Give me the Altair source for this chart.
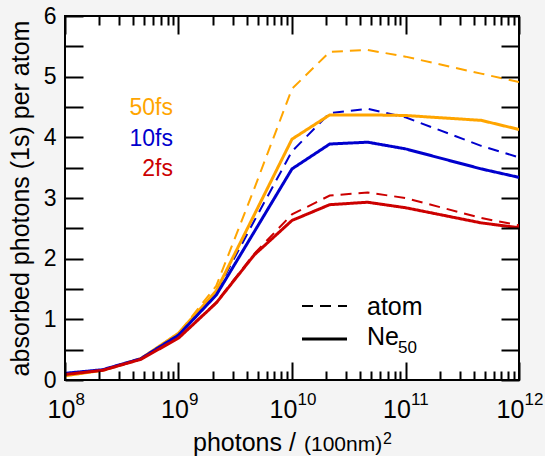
import altair as alt
import pandas as pd

# Photon fluence grid (photons per (100 nm)^2), three points per decade
fluence = [1e8, 2.15e8, 4.64e8, 1e9, 2.15e9, 4.64e9, 1e10, 2.15e10, 4.64e10, 1e11, 4.64e11, 1e12]

# Absorbed 1s photons per atom: isolated atom vs. Ne50 cluster, for three pulse lengths
atom_50fs = [0.08, 0.17, 0.35, 0.77, 1.55, 3.15, 4.80, 5.41, 5.44, 5.33, 5.05, 4.91]
ne50_50fs = [0.07, 0.16, 0.35, 0.77, 1.47, 2.72, 3.97, 4.37, 4.37, 4.36, 4.28, 4.13]
atom_10fs = [0.10, 0.17, 0.35, 0.75, 1.45, 2.62, 3.77, 4.40, 4.47, 4.33, 3.86, 3.67]
ne50_10fs = [0.11, 0.17, 0.35, 0.74, 1.40, 2.44, 3.48, 3.89, 3.92, 3.81, 3.48, 3.34]
atom_2fs = [0.09, 0.16, 0.34, 0.70, 1.28, 2.08, 2.73, 3.04, 3.09, 3.00, 2.67, 2.55]
ne50_2fs = [0.09, 0.16, 0.34, 0.69, 1.27, 2.06, 2.63, 2.89, 2.93, 2.84, 2.59, 2.51]

pulses = ["50fs", "10fs", "2fs"]
pulse_colors = ["#ffa500", "#0000cd", "#cc0000"]
kinds = ["atom", "Ne50"]

decades = [1e8, 1e9, 1e10, 1e11, 1e12]
x_ticks = decades + [m * 10.0 ** e for e in range(8, 12) for m in range(2, 10)]
y_ticks = [0, 0.5, 1, 1.5, 2, 2.5, 3, 3.5, 4, 4.5, 5, 5.5, 6]
y_labels = [0, 1, 2, 3, 4, 5, 6]

series = [
    ("50fs", "atom", atom_50fs), ("10fs", "atom", atom_10fs), ("2fs", "atom", atom_2fs),
    ("50fs", "Ne50", ne50_50fs), ("10fs", "Ne50", ne50_10fs), ("2fs", "Ne50", ne50_2fs),
]
rows = []
for pulse, kind, vals in series:
    for f, v in zip(fluence, vals):
        rows.append({"fluence": f, "absorbed": v, "pulse": pulse, "kind": kind,
                     "series": pulse + " " + kind})
df = pd.DataFrame(rows)

W, H = 454, 364
FONT = "Liberation Sans"
xscale = alt.Scale(type="log", domain=[1e8, 1e12], nice=False)
yscale = alt.Scale(domain=[0, 6], nice=False)
is_decade = "abs(log(datum.value)/LN10 - round(log(datum.value)/LN10)) < 0.001"
major_minor = {"condition": {"test": is_decade, "value": 18}, "value": 9}

# data lines with the labelled axes
lines = alt.Chart(df).mark_line(clip=True).encode(
    x=alt.X("fluence:Q", scale=xscale, axis=alt.Axis(
        orient="bottom", values=decades, labelExpr="'10'", labelFont=FONT,
        labelFontSize=25, labelColor="black", labelBaseline="alphabetic",
        labelAlign="center", labelPadding=37,
        labelOffset={"condition": {"test": "datum.value >= 1e10", "value": -9}, "value": -4},
        ticks=False, tickSize=0, domain=False, grid=False, title=None)),
    y=alt.Y("absorbed:Q", scale=yscale, axis=alt.Axis(
        orient="left", values=y_labels, labelFont=FONT, labelFontSize=23,
        labelColor="black", labelPadding=9, ticks=False, tickSize=0,
        domain=False, grid=False, title="absorbed photons (1s) per atom",
        titleFont=FONT, titleFontSize=25, titleFontWeight="normal",
        titleColor="black", titlePadding=10)),
    color=alt.Color("pulse:N", scale=alt.Scale(domain=pulses, range=pulse_colors), legend=None),
    strokeDash=alt.StrokeDash("kind:N", scale=alt.Scale(domain=kinds, range=[[11, 7], [1, 0]]), legend=None),
    strokeWidth=alt.StrokeWidth("kind:N", scale=alt.Scale(domain=kinds, range=[2, 3]), legend=None),
    detail="series:N",
)

# decade exponents as superscripts, plus inward ticks on the left edge
exps = alt.Chart(df).mark_point(opacity=0).encode(
    x=alt.X("fluence:Q", scale=xscale, axis=alt.Axis(
        orient="bottom", values=decades,
        labelExpr="'' + round(log(datum.value)/LN10)", labelFont=FONT,
        labelFontSize=17, labelColor="black", labelBaseline="alphabetic",
        labelAlign="left", labelPadding=24,
        labelOffset={"condition": {"test": "datum.value >= 1e10", "value": 5}, "value": 10},
        ticks=False, tickSize=0, domain=False, grid=False, title=None)),
    y=alt.Y("absorbed:Q", scale=yscale, axis=alt.Axis(
        orient="right", offset=-W, values=y_ticks, labels=False, tickSize=18,
        tickWidth=2, tickColor="black", domain=False, grid=False, title=None, zindex=1)),
)

# inward ticks on the bottom and right edges
ticks_br = alt.Chart(df).mark_point(opacity=0).encode(
    x=alt.X("fluence:Q", scale=xscale, axis=alt.Axis(
        orient="top", offset=-H, values=x_ticks, labels=False, tickSize=major_minor,
        tickWidth=2, tickColor="black", domain=False, grid=False, title=None, zindex=1)),
    y=alt.Y("absorbed:Q", scale=yscale, axis=alt.Axis(
        orient="left", offset=-W, values=y_ticks, labels=False, tickSize=18,
        tickWidth=2, tickColor="black", domain=False, grid=False, title=None, zindex=1)),
)

# inward ticks on the top edge
ticks_t = alt.Chart(df).mark_point(opacity=0).encode(
    x=alt.X("fluence:Q", scale=xscale, axis=alt.Axis(
        orient="bottom", offset=-H, values=x_ticks, labels=False, tickSize=major_minor,
        tickWidth=2, tickColor="black", domain=False, grid=False, title=None, zindex=1)),
    y=alt.Y("absorbed:Q", scale=yscale, axis=None),
)

one = pd.DataFrame({"k": [0]})

# pulse-length labels in their line colours
pulse_labels = [
    alt.Chart(one).mark_text(text=p, color=c, font=FONT, fontSize=23,
                             align="right", baseline="alphabetic").encode(
        x=alt.value(108), y=alt.value(99 + i * 30.5))
    for i, (p, c) in enumerate(zip(pulses, pulse_colors))
]

# line-style key
key_lines = [
    alt.Chart(one).mark_rule(color="black", strokeWidth=w, strokeDash=d).encode(
        x=alt.value(237), x2=alt.value(282), y=alt.value(290 + i * 33))
    for i, (w, d) in enumerate([(2, [11, 7]), (3, [1, 0])])
]
key_text = [
    alt.Chart(one).mark_text(text="atom", font=FONT, fontSize=25, align="left",
                             baseline="alphabetic", color="black").encode(
        x=alt.value(302), y=alt.value(299)),
    alt.Chart(one).mark_text(text="Ne", font=FONT, fontSize=25, align="left",
                             baseline="alphabetic", color="black").encode(
        x=alt.value(302), y=alt.value(329)),
    alt.Chart(one).mark_text(text="50", font=FONT, fontSize=17, align="left",
                             baseline="alphabetic", color="black").encode(
        x=alt.value(333), y=alt.value(337)),
]

# x-axis title with unit in smaller type
x_title = [
    alt.Chart(one).mark_text(text="photons /", font=FONT, fontSize=25, align="left",
                             baseline="alphabetic", color="black").encode(
        x=alt.value(128), y=alt.value(435)),
    alt.Chart(one).mark_text(text="(100nm)", font=FONT, fontSize=21, align="left",
                             baseline="alphabetic", color="black").encode(
        x=alt.value(239), y=alt.value(435)),
    alt.Chart(one).mark_text(text="2", font=FONT, fontSize=16, align="left",
                             baseline="alphabetic", color="black").encode(
        x=alt.value(318), y=alt.value(428)),
]

chart = alt.layer(
    lines, exps, ticks_br, ticks_t, *pulse_labels, *key_lines, *key_text, *x_title
).resolve_axis(
    x="independent", y="independent"
).properties(
    width=W, height=H,
    autosize=alt.AutoSizeParams(type="none"),
    padding={"left": 65, "top": 16, "right": 26, "bottom": 76},
    background="#f4f4f4",
).configure_view(
    stroke="black", strokeWidth=2, fill="white"
)

chart.save("out.html", embed_options={"renderer": "svg", "actions": False})
